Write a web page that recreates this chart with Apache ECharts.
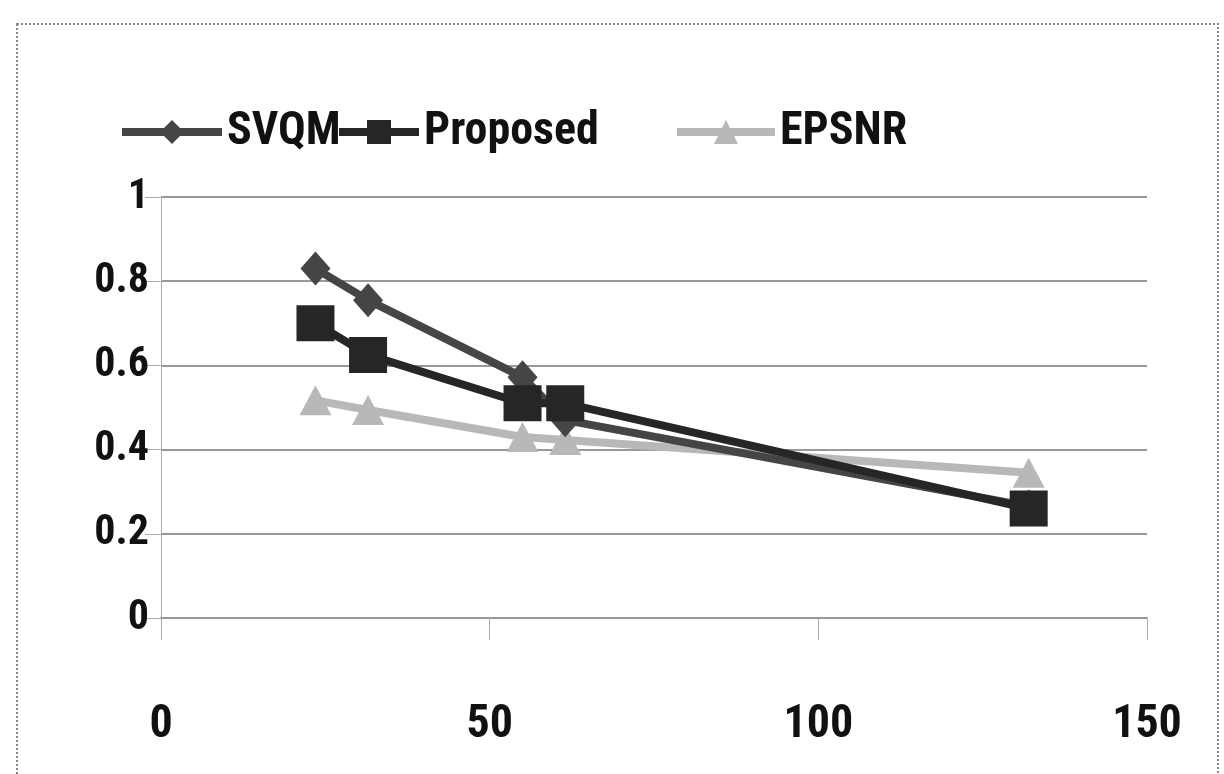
<!DOCTYPE html>
<html>
<head>
<meta charset="utf-8">
<style>
  html, body { margin: 0; padding: 0; background: #fff; }
  #chart { width: 1224px; height: 774px; }
</style>
<script src="https://cdn.jsdelivr.net/npm/echarts@6/dist/echarts.min.js"></script>
</head>
<body>
<div id="chart"></div>
<script>
// Bit rate (x) against quality score (y) for three metrics
const xValues = [23.5, 31.5, 55, 61.5, 132];
const svqm = [0.83, 0.755, 0.572, 0.47, 0.265];
const proposed = [0.70, 0.625, 0.51, 0.51, 0.26];
const epsnr = [0.517, 0.494, 0.43, 0.423, 0.345];
const xTicks = [0, 50, 100, 150];
const yTicks = [0, 0.2, 0.4, 0.6, 0.8, 1];

const pairs = ys => ys.map((y, i) => [xValues[i], y]);
const font = '"Roboto Condensed", "Open Sans", sans-serif';

const legendText = { fontFamily: font, fontWeight: 'bold', fontSize: 46, color: '#111', padding: [0, 0, 0, 0] };
const makeLegend = (name, left, width) => ({
  top: 104,
  left: left,
  itemWidth: width,
  itemHeight: 30,
  itemGap: 0,
  lineStyle: { width: 8 },
  textStyle: legendText,
  data: [name]
});

const chart = echarts.init(document.getElementById('chart'), null, { renderer: 'canvas' });

chart.setOption({
  backgroundColor: '#fff',
  animation: false,
  graphic: [{
    type: 'rect',
    shape: { x: 17, y: 24, width: 1201, height: 770 },
    style: { fill: 'none', stroke: '#888', lineWidth: 2, lineDash: [2, 2] },
    silent: true
  }],
  legend: [
    makeLegend('SVQM', 113, 100),
    makeLegend('Proposed', 330, 80),
    makeLegend('EPSNR', 668, 98)
  ],
  grid: { left: 161, right: 77, top: 197, bottom: 156, containLabel: false },
  xAxis: {
    type: 'value',
    min: xTicks[0],
    max: xTicks[xTicks.length - 1],
    interval: 50,
    axisLine: { show: true, lineStyle: { color: '#999', width: 2 } },
    axisTick: { show: true, inside: false, length: 22, lineStyle: { color: '#aaa', width: 1 } },
    splitLine: { show: false },
    axisLabel: {
      margin: 84,
      fontFamily: font,
      fontWeight: 'bold',
      fontSize: 46,
      color: '#111',
      formatter: v => xTicks.includes(v) ? String(v) : ''
    }
  },
  yAxis: {
    type: 'value',
    min: yTicks[0],
    max: yTicks[yTicks.length - 1],
    interval: 0.2,
    axisLine: { show: true, lineStyle: { color: '#aaa', width: 1 } },
    axisTick: { show: true, inside: false, length: 16, lineStyle: { color: '#aaa', width: 1 } },
    splitLine: { show: true, lineStyle: { color: '#999', width: 2 } },
    axisLabel: {
      margin: 12,
      fontFamily: font,
      fontWeight: 'bold',
      fontSize: 42,
      color: '#111',
      formatter: v => String(+v.toFixed(1))
    }
  },
  series: [
    {
      name: 'EPSNR',
      type: 'line',
      z: 2,
      data: pairs(epsnr),
      symbol: 'triangle',
      symbolSize: [32, 30],
      lineStyle: { color: '#b8b8b8', width: 8 },
      itemStyle: { color: '#b8b8b8' }
    },
    {
      name: 'SVQM',
      type: 'line',
      z: 3,
      data: pairs(svqm),
      symbol: 'diamond',
      symbolSize: [30, 34],
      lineStyle: { color: '#454545', width: 8 },
      itemStyle: { color: '#454545' }
    },
    {
      name: 'Proposed',
      type: 'line',
      z: 4,
      data: pairs(proposed),
      symbol: 'rect',
      symbolSize: [38, 36],
      lineStyle: { color: '#262626', width: 8 },
      itemStyle: { color: '#262626' }
    }
  ]
});
</script>
</body>
</html>
